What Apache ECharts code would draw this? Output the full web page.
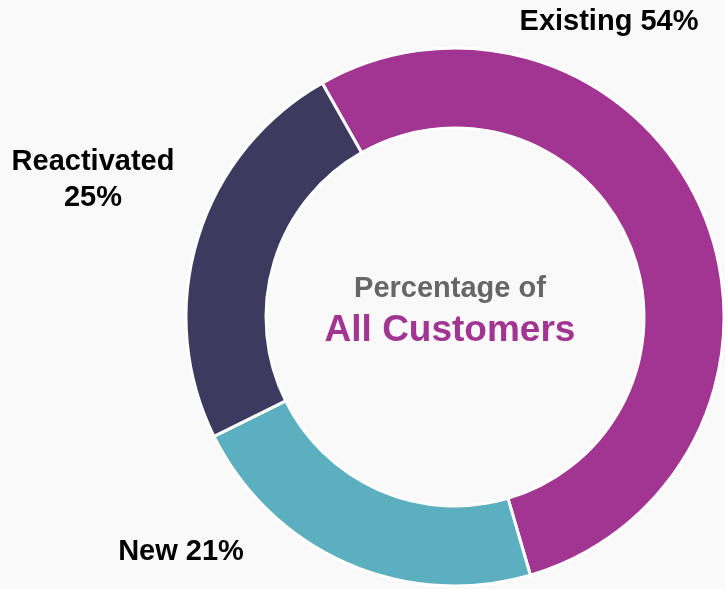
<!DOCTYPE html>
<html>
<head>
<meta charset="utf-8">
<script src="https://cdn.jsdelivr.net/npm/echarts@6/dist/echarts.min.js"></script>
<style>
html,body{margin:0;padding:0;background:#f9f9f9;}
#chart{width:725px;height:589px;}
</style>
</head>
<body>
<div id="chart"></div>
<script>
var categories = ['Existing', 'New', 'Reactivated'];
var values = [53.7, 22.2, 24.1];
var pctLabels = ['54%', '21%', '25%'];
var colors = ['#a23592', '#5bafbf', '#3e3a5f'];
var centerLine1 = 'Percentage of';
var centerLine2 = 'All Customers';

var labelPos = [
  {x: 609, y: 22, sep: ' '},
  {x: 181, y: 552, sep: ' '},
  {x: 93, y: 180, sep: '\n'}
];

var chart = echarts.init(document.getElementById('chart'));
var data = categories.map(function (c, i) {
  return {
    name: c,
    value: values[i],
    itemStyle: {color: colors[i]},
    label: {formatter: c + labelPos[i].sep + pctLabels[i]}
  };
});

chart.setOption({
  backgroundColor: '#f9f9f9',
  animation: false,
  series: [{
    type: 'pie',
    center: [455, 317],
    radius: [189, 269],
    startAngle: 119.6,
    clockwise: true,
    data: data,
    itemStyle: {borderColor: '#ffffff', borderWidth: 3},
    label: {
      show: true,
      position: 'outside',
      alignTo: 'none',
      overflow: 'none',
      color: '#000000',
      fontFamily: 'Liberation Sans, Arial, sans-serif',
      fontWeight: 'bold',
      fontSize: 29,
      lineHeight: 36,
      align: 'center'
    },
    labelLine: {show: false},
    labelLayout: function (p) {
      var lp = labelPos[p.dataIndex];
      return {x: lp.x, y: lp.y, align: 'center', verticalAlign: 'middle', hideOverlap: false};
    },
    emphasis: {disabled: true}
  }],
  graphic: [
    {
      type: 'text',
      style: {
        text: centerLine1, x: 450, y: 289,
        fill: '#666666', font: 'bold 29px "Liberation Sans", Arial, sans-serif',
        textAlign: 'center', textVerticalAlign: 'middle'
      }
    },
    {
      type: 'text',
      style: {
        text: centerLine2, x: 450, y: 331,
        fill: '#a23592', font: 'bold 37px "Liberation Sans", Arial, sans-serif',
        textAlign: 'center', textVerticalAlign: 'middle'
      }
    }
  ]
});
</script>
</body>
</html>
